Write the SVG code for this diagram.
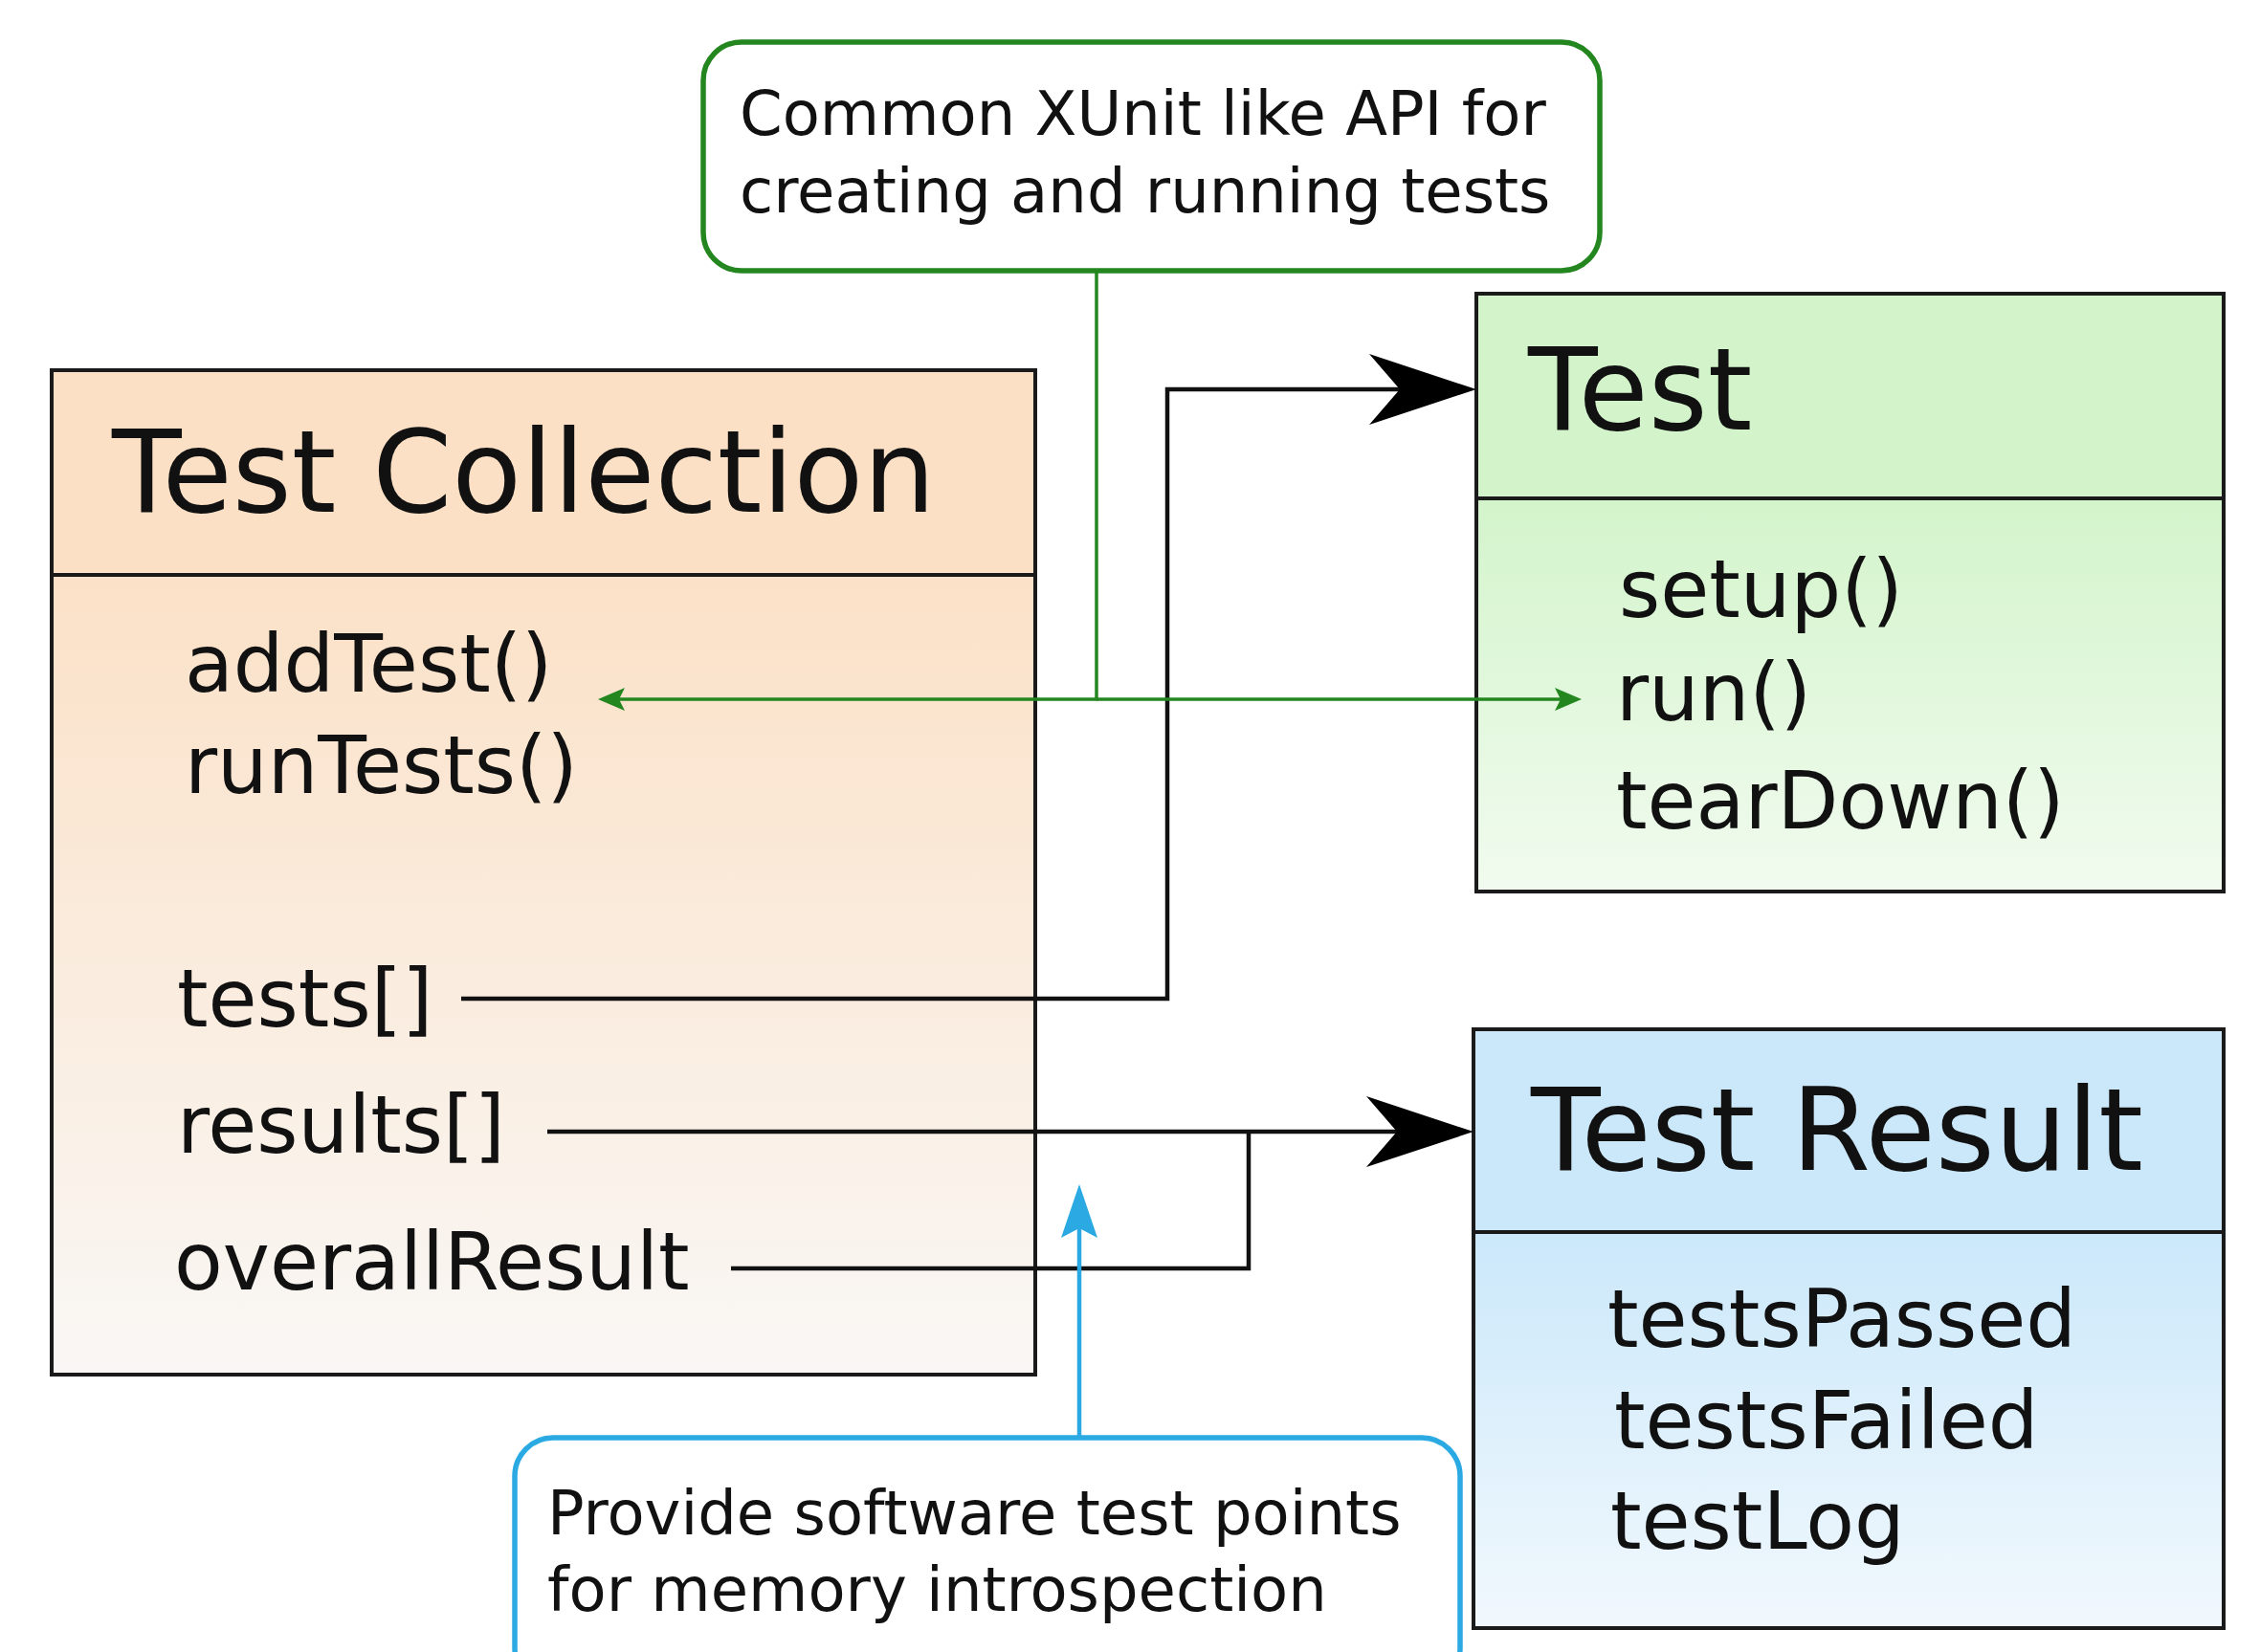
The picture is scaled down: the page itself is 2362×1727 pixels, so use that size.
<svg xmlns="http://www.w3.org/2000/svg" width="2362" height="1727" viewBox="0 0 2362 1727">
<style>
text{font-family:"DejaVu Sans","Liberation Sans",sans-serif;fill:#111}
.title{font-size:119px}
.mem{font-size:83px}
.note{font-size:64px}
.box{stroke:#1a1a1a;stroke-width:4}
.blk{fill:none;stroke:#111;stroke-width:4.5}
.grn{fill:none;stroke:#23861f;stroke-width:3.5}
.blu{fill:none;stroke:#2aa9e3;stroke-width:4.5}
</style>
<defs>
<linearGradient id="gPeach" x1="0" y1="0" x2="0" y2="1"><stop offset="0" stop-color="#fbe1c7"/><stop offset="1" stop-color="#f9f7f5"/></linearGradient>
<linearGradient id="gGreen" x1="0" y1="0" x2="0" y2="1"><stop offset="0" stop-color="#d3f4cb"/><stop offset="1" stop-color="#f1fbef"/></linearGradient>
<linearGradient id="gBlue" x1="0" y1="0" x2="0" y2="1"><stop offset="0" stop-color="#cbe8fa"/><stop offset="1" stop-color="#f1f8fd"/></linearGradient>
<marker id="aBlk" markerUnits="userSpaceOnUse" markerWidth="10" markerHeight="10" refX="0" refY="0" orient="auto" overflow="visible"><path d="M30,0 L-82,-37 L-50,0 L-82,37 Z" fill="#000"/></marker>
<marker id="aGrn" markerUnits="userSpaceOnUse" markerWidth="10" markerHeight="10" refX="0" refY="0" orient="auto" overflow="visible"><path d="M10,0 L-18,-12 L-12,0 L-18,12 Z" fill="#23861f"/></marker>
<marker id="aBlu" markerUnits="userSpaceOnUse" markerWidth="10" markerHeight="10" refX="0" refY="0" orient="auto" overflow="visible"><path d="M12,0 L-44,-19 L-34,0 L-44,19 Z" fill="#2aa9e3"/></marker>
</defs>
<rect width="2362" height="1727" fill="#fff"/>

<g id="test-collection">
<rect x="54" y="601" width="1028" height="836" fill="url(#gPeach)" class="box"/>
<rect x="54" y="387" width="1028" height="214" fill="#fbe0c5" class="box"/>
<text class="title" x="117" y="535">Test Collection</text>
<text class="mem" x="193" y="723">addTest()</text>
<text class="mem" x="193" y="829">runTests()</text>
<text class="mem" x="185" y="1073">tests[]</text>
<text class="mem" x="185" y="1205">results[]</text>
<text class="mem" x="182" y="1348">overallResult</text>
</g>

<g id="test">
<rect x="1543" y="521" width="781" height="411" fill="url(#gGreen)" class="box"/>
<rect x="1543" y="307" width="781" height="214" fill="#d3f4cb" class="box"/>
<text class="title" x="1597" y="449">Test</text>
<text class="mem" x="1692" y="645">setup()</text>
<text class="mem" x="1689" y="753">run()</text>
<text class="mem" x="1689" y="866">tearDown()</text>
</g>

<g id="test-result">
<rect x="1540" y="1288" width="784" height="414" fill="url(#gBlue)" class="box"/>
<rect x="1540" y="1076" width="784" height="212" fill="#cbe8fa" class="box"/>
<text class="title" x="1600" y="1223">Test Result</text>
<text class="mem" x="1680" y="1408">testsPassed</text>
<text class="mem" x="1687" y="1514">testsFailed</text>
<text class="mem" x="1683" y="1619">testLog</text>
</g>

<g id="note-api">
<rect x="735" y="44" width="937" height="239" rx="40" ry="40" fill="#fff" stroke="#23861f" stroke-width="5.5"/>
<text class="note" x="773" y="141">Common XUnit like API for</text>
<text class="note" x="773" y="222">creating and running tests</text>
</g>

<g id="note-memory">
<rect x="538" y="1503" width="988" height="260" rx="40" ry="40" fill="#fff" stroke="#2aa9e3" stroke-width="5.5"/>
<text class="note" x="572" y="1604">Provide software test points</text>
<text class="note" x="572" y="1684">for memory introspection</text>
</g>

<g id="connectors">
<path class="blk" d="M482,1044 H1220 V407 H1513" marker-end="url(#aBlk)"/>
<path class="blk" d="M572,1183 H1510" marker-end="url(#aBlk)"/>
<path class="blk" d="M764,1326 H1305 V1183"/>
<path class="grn" d="M1146,283 V731 H635" marker-end="url(#aGrn)"/>
<path class="grn" d="M1146,731 H1643" marker-end="url(#aGrn)"/>
<path class="blu" d="M1128,1503 V1250" marker-end="url(#aBlu)"/>
</g>
</svg>
